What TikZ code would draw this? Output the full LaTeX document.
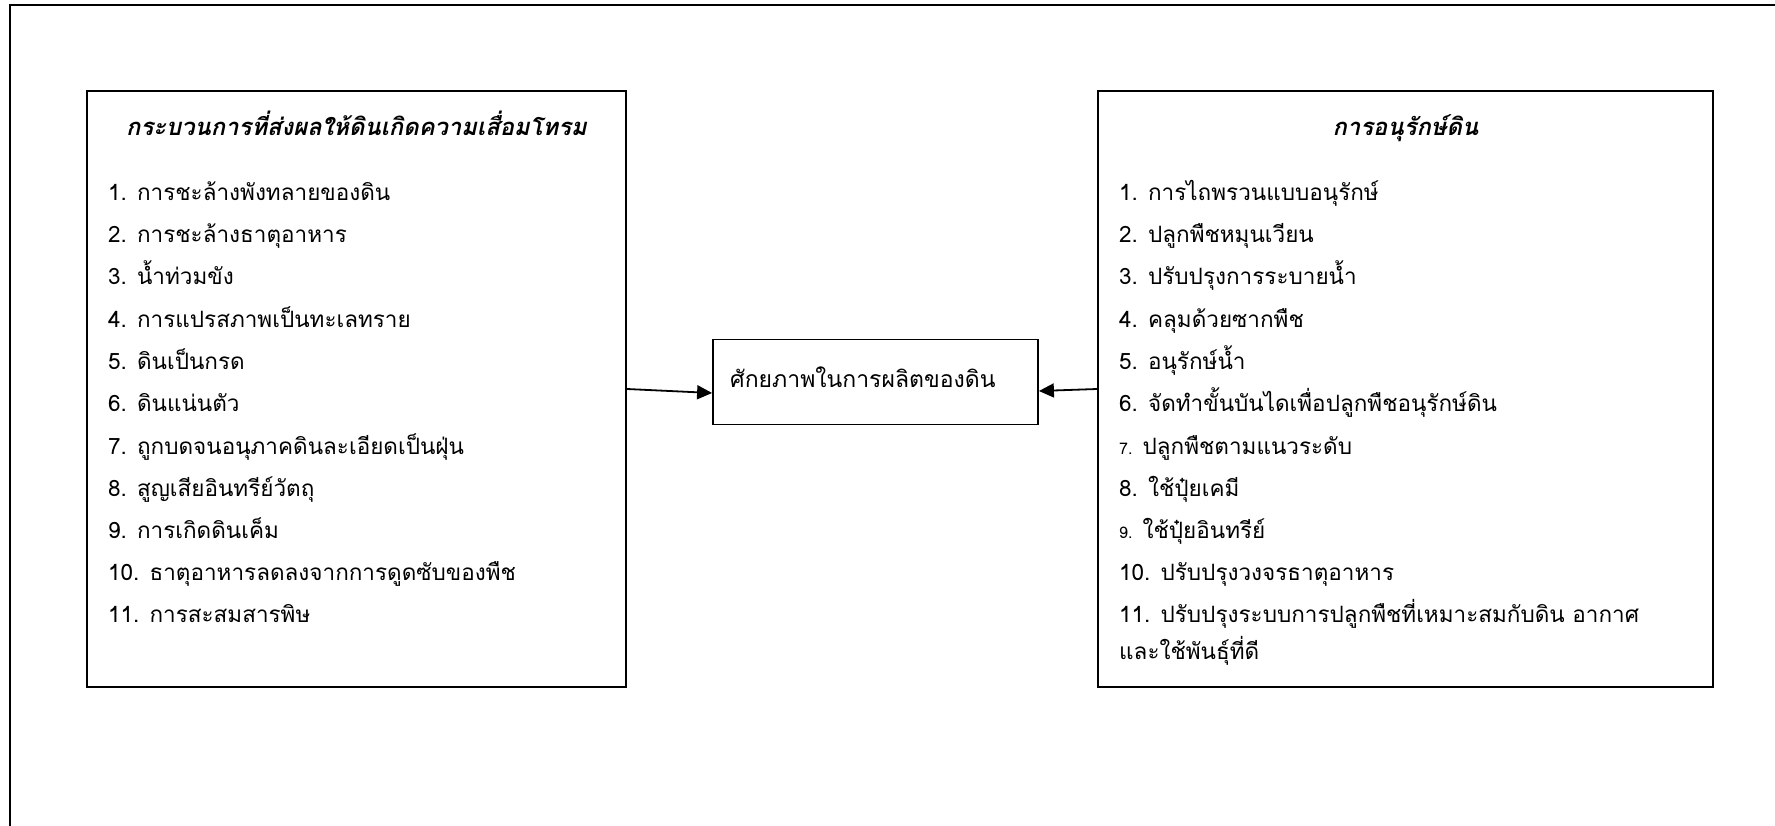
\documentclass[tikz,border=0pt]{standalone}
\usepackage{fontspec}
\setmainfont[Script=Thai]{Loma}
\usetikzlibrary{arrows.meta}
\newcommand\itemfont{\fontsize{22.5}{27}\selectfont}
\newcommand\midfont{\fontsize{23}{27}\selectfont}
\newcommand\ttlfont{\fontsize{23.8}{28}\selectfont\itshape\bfseries}
\newcommand\smallnum[1]{{\fontsize{16}{18}\selectfont #1}}
\begin{document}
\begin{tikzpicture}[x=1pt,y=-1pt,
  box/.style={draw,line width=1.8pt,inner sep=0pt},
  item/.style={anchor=base west,inner sep=0pt,font=\itemfont},
  ttl/.style={anchor=base,inner sep=0pt,font=\ttlfont},
  conn/.style={line width=1.8pt,-{Triangle[length=15pt,width=14pt]}}]
\useasboundingbox (0,0) rectangle (1775,826);
\draw[line width=1.8pt] (10,840) -- (10,5) -- (1790,5);
% boxes
\node[box,minimum width=539pt,minimum height=596pt] (L) at (356.5,389) {};
\node[box,minimum width=615pt,minimum height=596pt] (R) at (1405.5,389) {};
\node[box,minimum width=325pt,minimum height=85pt] (M) at (875.5,382) {};
% titles
\node[ttl] (Lt) at (356.5,136) {กระบวนการที่ส่งผลให้ดินเกิดความเสื่อมโทรม};
\node[ttl] (Rt) at (1405.5,136) {การอนุรักษ์ดิน};
% middle text
\node[item,font=\midfont] (Mt) at (730,387) {ศักยภาพในการผลิตของดิน};
% left items
\node[item] (l1) at (108,201) {1. การชะล้างพังทลายของดิน};
\node[item] (l2) at (108,243) {2. การชะล้างธาตุอาหาร};
\node[item] (l3) at (108,285) {3. น้ำท่วมขัง};
\node[item] (l4) at (108,327) {4. การแปรสภาพเป็นทะเลทราย};
\node[item] (l5) at (108,369) {5. ดินเป็นกรด};
\node[item] (l6) at (108,411) {6. ดินแน่นตัว};
\node[item] (l7) at (108,454) {7. ถูกบดจนอนุภาคดินละเอียดเป็นฝุ่น};
\node[item] (l8) at (108,496) {8. สูญเสียอินทรีย์วัตถุ};
\node[item] (l9) at (108,538) {9. การเกิดดินเค็ม};
\node[item] (l10) at (108,580) {10. ธาตุอาหารลดลงจากการดูดซับของพืช};
\node[item] (l11) at (108,622) {11. การสะสมสารพิษ};
% right items
\node[item] (r1) at (1119,201) {1. การไถพรวนแบบอนุรักษ์};
\node[item] (r2) at (1119,243) {2. ปลูกพืชหมุนเวียน};
\node[item] (r3) at (1119,285) {3. ปรับปรุงการระบายน้ำ};
\node[item] (r4) at (1119,327) {4. คลุมด้วยซากพืช};
\node[item] (r5) at (1119,369) {5. อนุรักษ์น้ำ};
\node[item] (r6) at (1119,411) {6. จัดทำขั้นบันไดเพื่อปลูกพืชอนุรักษ์ดิน};
\node[item] (r7) at (1119,454) {\smallnum{7.} ปลูกพืชตามแนวระดับ};
\node[item] (r8) at (1119,496) {8. ใช้ปุ๋ยเคมี};
\node[item] (r9) at (1119,538) {\smallnum{9.} ใช้ปุ๋ยอินทรีย์};
\node[item] (r10) at (1119,580) {10. ปรับปรุงวงจรธาตุอาหาร};
\node[item] (r11) at (1119,622) {11. ปรับปรุงระบบการปลูกพืชที่เหมาะสมกับดิน อากาศ};
\node[item] (r12) at (1119,659) {และใช้พันธุ์ที่ดี};
% connectors
\draw[conn] (L.east) -- ([yshift=-11pt]M.west);
\draw[conn] (R.west) -- ([yshift=-9pt]M.east);
\end{tikzpicture}
\end{document}
